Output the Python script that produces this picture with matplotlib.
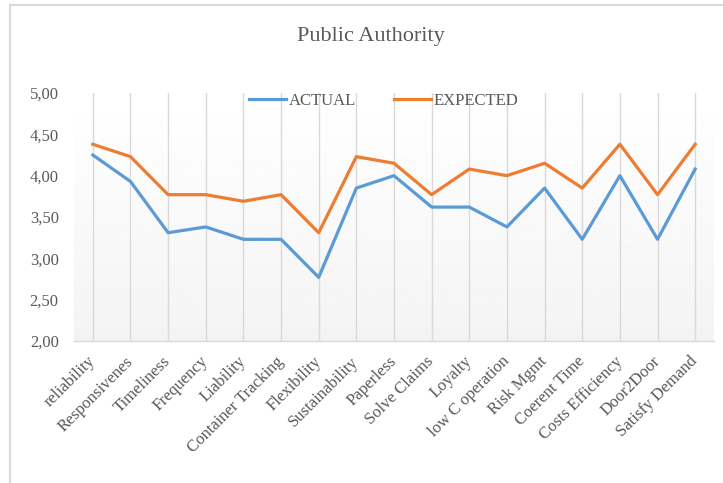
import numpy as np
import matplotlib
matplotlib.use("Agg")
import matplotlib.pyplot as plt
from matplotlib.patches import Rectangle

categories = ["reliability", "Responsivenes", "Timeliness", "Frequency", "Liability",
              "Container Tracking", "Flexibility", "Sustainability", "Paperless",
              "Solve Claims", "Loyalty", "low C operation", "Risk Mgmt", "Coerent Time",
              "Costs Efficiency", "Door2Door", "Satisfy Demand"]
actual = [4.25, 3.93, 3.31, 3.38, 3.23, 3.23, 2.77, 3.85, 4.00, 3.62, 3.62,
          3.38, 3.85, 3.23, 4.00, 3.23, 4.08]
expected = [4.38, 4.23, 3.77, 3.77, 3.69, 3.77, 3.31, 4.23, 4.15, 3.77, 4.08,
            4.00, 4.15, 3.85, 4.38, 3.77, 4.38]
yticks = [2.0, 2.5, 3.0, 3.5, 4.0, 4.5, 5.0]

plt.rcParams['font.family'] = ['Liberation Serif', 'DejaVu Serif']
text_color = '#595959'

fig = plt.figure(figsize=(7.23, 4.83), dpi=100)
# chart border (only left and top edges fall inside the picture)
fig.patches.append(Rectangle((10 / 723, -0.1), 1.0, 1 - 5 / 483 + 0.1, transform=fig.transFigure,
                             fill=False, edgecolor='#d9d9d9', linewidth=1.5))

ax = fig.add_axes([74 / 723, 1 - 341 / 483, (714 - 74) / 723, (341 - 93) / 483])
x = np.arange(len(categories))

# faint vertical gradient in plot area
grad = np.linspace(1.0, 0.955, 100).reshape(-1, 1)
ax.imshow(grad, cmap='gray', vmin=0, vmax=1, aspect='auto',
          extent=[0, 1, 0, 1], transform=ax.transAxes, zorder=0)

ax.plot(x, actual, color='#5b9bd5', linewidth=2.3, label='ACTUAL', zorder=3)
ax.plot(x, expected, color='#ed7d31', linewidth=2.3, label='EXPECTED', zorder=3)

ax.set_xlim(-0.5, len(categories) - 0.5)
ax.set_ylim(2.0, 5.0)
ax.set_xticks(x)
ax.set_xticklabels(categories, rotation=45, ha='right', va='center', rotation_mode='anchor',
                   fontsize=12, color=text_color)
ax.tick_params(axis='x', pad=13)
ax.set_yticks(yticks)
ax.set_yticklabels([f"{v:.2f}".replace('.', ',') for v in yticks], fontsize=12, color=text_color)
ax.tick_params(axis='both', length=0)
ax.tick_params(axis='y', pad=11)
ax.grid(axis='x', color='#d9d9d9', linewidth=1)
ax.set_axisbelow(True)
for side in ['top', 'right', 'left']:
    ax.spines[side].set_visible(False)
ax.spines['bottom'].set_color('#d9d9d9')
ax.spines['bottom'].set_linewidth(1)

fig.text(0.5 + 9 / 723, 1 - 37 / 483, "Public Authority", ha='center', va='center',
         fontsize=16, color=text_color)
ax.legend(loc='center', bbox_to_anchor=(0.484, 0.968), ncol=2, frameon=False,
          fontsize=12, labelcolor=text_color, handlelength=2.2, columnspacing=2.3,
          handletextpad=0.15)

fig.savefig("out.png", dpi=100)
